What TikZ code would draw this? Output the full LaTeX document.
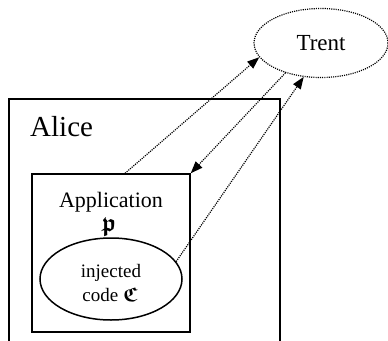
\documentclass[tikz,border=0pt]{standalone}
\usepackage{fontspec}
\usepackage{amssymb}
\usepackage{graphicx}
\setmainfont{Liberation Serif}
\usetikzlibrary{arrows.meta,shapes.geometric}

% bold Fraktur letter, scaled up from 10pt to sit with the text
\newcommand{\bfrak}[2]{\scalebox{#1}{\fontsize{10}{12}\usefont{U}{euf}{b}{n}#2}}

\tikzset{
  box/.style={draw,line width=1.5pt,inner sep=0pt},
  dots/.style={line width=1.2pt,dash pattern=on 1.1pt off 1.1pt},
  msg/.style={dots,-{Triangle[length=12pt,width=9pt]}},
}

\begin{document}
\begin{tikzpicture}[x=1pt,y=-1pt]
  \useasboundingbox (0,0) rectangle (388,340);
  \clip (0,0) rectangle (388,340);

  % Trent, outside
  \node[ellipse,draw,dots,inner sep=0pt,minimum width=134pt,minimum height=69pt,
    font=\fontsize{23}{27}\selectfont] (trent) at (321,43) {Trent};

  % Alice's machine, cut off at the bottom
  \node[box,minimum width=271pt,minimum height=262pt] (alice) at (144.5,230) {};
  \node[font=\fontsize{29}{33}\selectfont,anchor=base west,inner sep=0pt] (alicelbl) at (30,136) {Alice};

  % the application and the code injected into it
  \node[box,minimum width=158pt,minimum height=158pt] (app) at (111,253) {};
  \node[font=\fontsize{22}{26}\selectfont,anchor=base,inner sep=0pt] (applbl) at (111,207) {Application};
  \node[anchor=base,inner sep=0pt] (p) at (109,231) {\bfrak{2.5}{p}};
  \node[ellipse,draw,line width=1.5pt,inner sep=0pt,minimum width=142pt,minimum height=82pt] (code) at (111,279) {};
  \node[font=\fontsize{19}{23}\selectfont,anchor=base,inner sep=0pt] (codelbl1) at (111,277) {injected};
  \node[font=\fontsize{19}{23}\selectfont,anchor=base,inner sep=0pt] (codelbl2) at (110,301) {code \bfrak{2}{C}};

  % messages
  \draw[msg] (app.80) -- (trent.193);
  \draw[msg] (trent.220) -- (app.north east);
  \draw[msg] (code.15) -- (trent.243);
\end{tikzpicture}
\end{document}
